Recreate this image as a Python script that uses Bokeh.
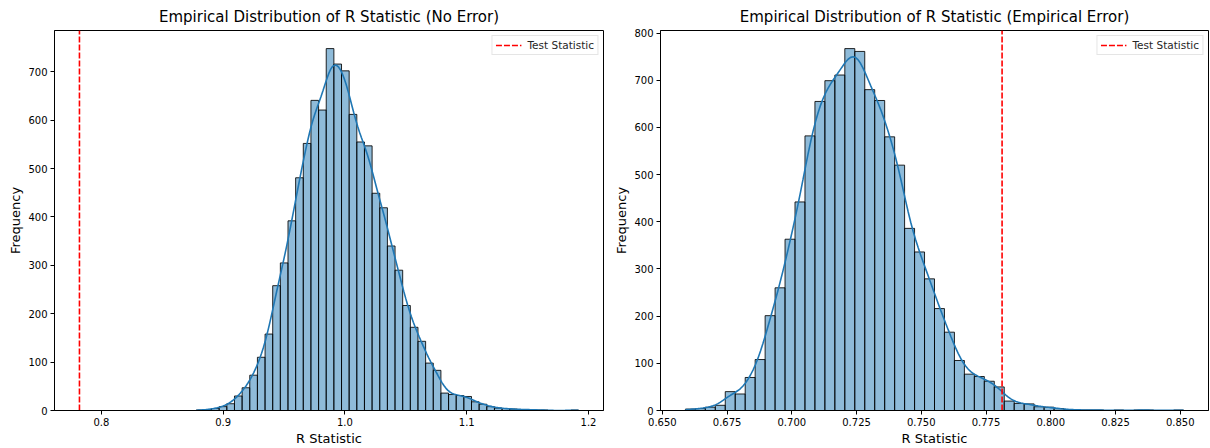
import numpy as np
from bokeh.plotting import figure
from bokeh.layouts import row
from bokeh.models import (Legend, LegendItem, FixedTicker, NumeralTickFormatter,
                          Range1d, ColumnDataSource)
from bokeh.embed import file_html
from bokeh.resources import INLINE

# ---------------- data ----------------
left_title = "Empirical Distribution of R Statistic (No Error)"
left_counts = [1, 2, 4, 8, 14, 30, 47, 73, 110, 158, 258, 305, 392, 481, 552, 641,
               621, 748, 716, 702, 612, 555, 547, 449, 419, 340, 290, 217, 172, 143, 98, 83, 36,
               33, 31, 29, 18, 13, 8, 5, 4, 3,
               2, 2, 1, 1, 0, 0, 0, 1]
left_min = 0.8779
left_max = 1.1918
left_test_stat = 0.782
left_xticks = [0.8, 0.9, 1.0, 1.1, 1.2]
left_yticks = [0, 100, 200, 300, 400, 500, 600, 700]

right_title = "Empirical Distribution of R Statistic (Empirical Error)"
right_counts = [3, 4, 7, 11, 40, 35, 70, 108, 201, 260, 363, 442, 582, 655, 699, 711,
                767, 761, 680, 657, 580, 520, 386, 336, 279, 216, 166, 106, 77, 72, 62, 50,
                20, 15, 14, 8, 7, 4, 2,
                1, 1, 1, 0, 1, 0, 1, 1, 0, 0, 1]
right_min = 0.6589
right_max = 0.8513
right_test_stat = 0.7812
right_xticks = [0.650, 0.675, 0.700, 0.725, 0.750, 0.775, 0.800, 0.825, 0.850]
right_yticks = [0, 100, 200, 300, 400, 500, 600, 700, 800]

x_label = "R Statistic"
y_label = "Frequency"
legend_label = "Test Statistic"

FONT = "DejaVu Sans"
BAR_COLOR = "#1f77b4"


def kde_curve(counts, lo, hi, n=200):
    counts = np.asarray(counts, float)
    edges = np.linspace(lo, hi, len(counts) + 1)
    centers = (edges[:-1] + edges[1:]) / 2
    N = counts.sum()
    mean = (counts * centers).sum() / N
    var = (counts * (centers - mean) ** 2).sum() / (N - 1)
    bw = np.sqrt(var) * N ** (-0.2)
    xs = np.linspace(lo, hi, n)
    dens = (counts[None, :] * np.exp(-0.5 * ((xs[:, None] - centers[None, :]) / bw) ** 2)).sum(1)
    dens /= (N * bw * np.sqrt(2 * np.pi))
    ys = dens * N * (edges[1] - edges[0])
    return xs, ys


def panel(title, counts, lo, hi, ts, xticks, yticks, xfmt, border_left):
    counts = np.asarray(counts, float)
    edges = np.linspace(lo, hi, len(counts) + 1)
    dmin, dmax = min(lo, ts), max(hi, ts)
    pad = 0.05 * (dmax - dmin)
    ytop = 1.05 * counts.max()

    p = figure(width=605, height=448, output_backend="svg", toolbar_location=None,
               x_range=Range1d(dmin - pad, dmax + pad), y_range=Range1d(0, ytop),
               min_border_left=border_left, min_border_right=2,
               min_border_top=28, min_border_bottom=37,
               background_fill_color="white", border_fill_color="white")

    src = ColumnDataSource(dict(left=edges[:-1], right=edges[1:], top=counts,
                                bottom=np.zeros_like(counts)))
    p.quad(left="left", right="right", top="top", bottom="bottom", source=src,
           fill_color=BAR_COLOR, fill_alpha=0.5, line_color="black", line_alpha=0.85,
           line_width=1)

    kx, ky = kde_curve(counts, lo, hi)
    p.line(kx, ky, line_color=BAR_COLOR, line_width=1.6)

    r = p.line([ts, ts], [0, ytop], line_color="red", line_width=1.6, line_dash="6 2")

    legend = Legend(items=[LegendItem(label=legend_label, renderers=[r])],
                    location="top_right")
    legend.label_text_font = FONT
    legend.label_text_font_size = "10.5px"
    legend.label_text_color = "#262626"
    legend.glyph_width = 26
    legend.glyph_height = 12
    legend.label_height = 12
    legend.label_standoff = 6
    legend.padding = 3
    legend.spacing = 0
    legend.margin = 5
    legend.border_line_color = "#cccccc"
    legend.border_line_width = 1
    legend.background_fill_alpha = 0.8
    p.add_layout(legend)

    p.title.text = title
    p.title.align = "center"
    p.title.text_font = FONT
    p.title.text_font_size = "15px"
    p.title.text_font_style = "normal"
    p.title.text_color = "black"

    p.xgrid.visible = False
    p.ygrid.visible = False
    p.outline_line_color = "black"
    p.outline_line_width = 1
    p.outline_line_alpha = 1

    p.xaxis.ticker = FixedTicker(ticks=xticks)
    p.yaxis.ticker = FixedTicker(ticks=yticks)
    p.xaxis.formatter = NumeralTickFormatter(format=xfmt)
    p.yaxis.formatter = NumeralTickFormatter(format="0")
    p.xaxis.axis_label = x_label
    p.yaxis.axis_label = y_label
    for ax in (p.xaxis, p.yaxis):
        ax.axis_label_text_font = FONT
        ax.axis_label_text_font_size = "13px"
        ax.axis_label_text_font_style = "normal"
        ax.axis_label_text_color = "black"
        ax.major_label_text_font = FONT
        ax.major_label_text_font_size = "10px"
        ax.major_label_text_color = "black"
        ax.major_tick_out = 4
        ax.major_tick_in = 0
        ax.minor_tick_out = 0
        ax.minor_tick_in = 0
        ax.axis_line_color = "black"
        ax.major_tick_line_color = "black"
        ax.major_label_standoff = 3
        ax.axis_label_standoff = 2
    return p


p1 = panel(left_title, left_counts, left_min, left_max, left_test_stat,
           left_xticks, left_yticks, "0.0", 54)
p2 = panel(right_title, right_counts, right_min, right_max, right_test_stat,
           right_xticks, right_yticks, "0.000", 55)

layout = row(p1, p2, spacing=0)
open("out.html", "w").write(file_html(layout, INLINE))
